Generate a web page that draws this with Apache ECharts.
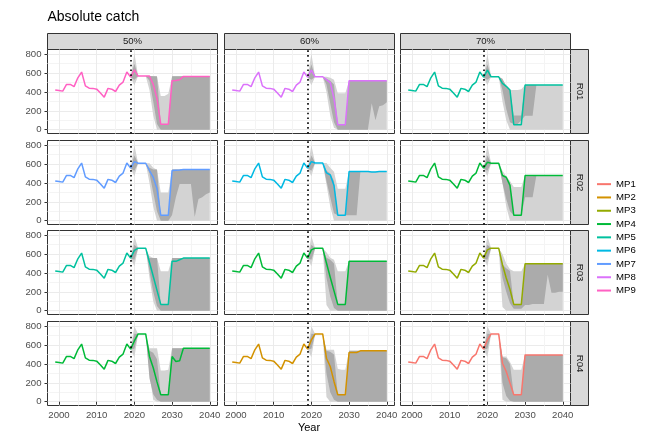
<!DOCTYPE html>
<html><head><meta charset="utf-8">
<script src="https://cdn.jsdelivr.net/npm/echarts@6/dist/echarts.min.js"></script>
<style>html,body{margin:0;padding:0;background:#fff}#c{width:651px;height:439px}</style>
</head><body><div id="c"></div>
<script>
const FONT = "'Liberation Sans', Arial, sans-serif";
const colLabels = ['50%', '60%', '70%'];
const rowLabels = ['R01', 'R02', 'R03', 'R04'];
const mpNames = ['MP1','MP2','MP3','MP4','MP5','MP6','MP7','MP8','MP9'];
const mpColors = ['#F8766D','#D39200','#93AA00','#00BA38','#00C19F','#00B9E3','#619CFF','#DB72FB','#FF61C3'];
const xMajor = [2000, 2010, 2020, 2030, 2040];
const xMinor = [2005, 2015, 2025, 2035];
const yMajor = [0, 200, 400, 600, 800];
const yMinor = [100, 300, 500, 700];
const histYears = [1999,2000,2001,2002,2003,2004,2005,2006,2007,2008,2009,2010,2011,2012,2013,2014,2015,2016,2017,2018,2019];
const projYears = [2019,2020,2021,2022,2023,2024,2025,2026,2027,2028,2029,2030,2031,2032,2033,2034,2035,2036,2037,2038,2039,2040];
const hist = [422,416,409,480,480,457,550,611,465,440,438,430,390,345,438,430,405,473,505,611,557];

// R01
const line_R01_50 = [635,569,569,569,569,480,330,58,58,58,520,522,530,565,565,565,565,565,565,565,565];
const oLo_R01_50 = [557,470,569,569,569,420,150,0,0,0,0,0,0,0,0,0,0,0,0,0,0,0];
const oHi_R01_50 = [557,810,569,569,569,569,569,560,357,357,380,567,567,567,567,567,567,567,567,567,567,567];
const iLo_R01_50 = [557,530,569,569,569,520,300,60,0,0,0,0,0,0,0,0,0,0,0,0,0,0];
const iHi_R01_50 = [557,700,569,569,569,569,567,567,60,60,60,567,567,567,567,567,567,567,567,567,567,567];

const line_R01_60 = [632,561,561,561,530,500,330,53,53,53,519,519,519,519,519,519,519,519,519,519,519];
const oLo_R01_60 = [557,470,561,561,561,400,150,20,0,0,0,0,0,0,0,0,0,0,0,0,0,0];
const oHi_R01_60 = [557,805,561,561,561,561,550,530,386,386,386,519,519,519,519,519,519,519,519,519,519,519];
const iLo_R01_60 = [557,530,561,561,561,480,280,80,0,0,0,0,0,0,0,0,0,280,100,250,260,290];
const iHi_R01_60 = [557,690,561,561,561,540,520,480,60,60,60,519,519,519,519,519,519,519,519,519,519,519];

const line_R01_70 = [632,561,561,561,491,460,420,53,53,53,474,474,474,474,474,474,474,474,474,474,474];
const oLo_R01_70 = [557,470,561,561,561,300,100,0,0,0,0,0,0,0,0,0,0,0,0,0,0,0];
const oHi_R01_70 = [557,805,561,561,561,530,470,420,420,420,430,474,474,474,474,474,474,474,474,474,474,474];
const iLo_R01_70 = [557,530,561,561,561,420,220,80,60,60,100,147,147,147,474,474,474,474,474,474,474,474];
const iHi_R01_70 = [557,690,561,561,561,540,460,420,150,150,150,474,474,474,474,474,474,474,474,474,474,474];

// R02
const line_R02_50 = [626,609,609,609,532,461,338,58,58,58,532,535,538,542,542,542,542,542,542,542,542];
const oLo_R02_50 = [557,470,609,609,609,400,150,0,0,0,0,0,0,0,0,0,0,0,0,0,0,0];
const oHi_R02_50 = [557,800,609,609,609,609,560,540,300,300,300,542,542,542,542,542,542,542,542,542,542,542];
const iLo_R02_50 = [557,530,609,609,609,500,300,100,0,0,0,60,250,390,390,390,390,40,230,250,280,300];
const iHi_R02_50 = [557,690,609,609,609,560,542,542,60,60,60,542,542,542,542,542,542,542,542,542,542,542];

const line_R02_60 = [626,612,612,612,507,486,374,58,58,58,521,521,521,521,521,521,516,516,521,521,521];
const oLo_R02_60 = [557,470,612,612,612,380,150,0,0,0,0,0,0,0,0,0,0,0,0,0,0,0];
const oHi_R02_60 = [557,800,612,612,612,612,560,520,339,339,339,521,521,521,521,521,521,521,521,521,521,521];
const iLo_R02_60 = [557,530,612,612,612,420,250,80,58,58,58,58,58,58,521,521,521,521,521,521,521,521];
const iHi_R02_60 = [557,690,612,612,612,530,500,420,58,58,58,521,521,521,521,521,521,521,521,521,521,521];

const line_R02_70 = [619,609,609,609,479,461,374,58,58,58,479,479,479,479,479,479,479,479,479,479,479];
const oLo_R02_70 = [557,470,609,609,609,400,150,0,0,0,0,0,0,0,0,0,0,0,0,0,0,0];
const oHi_R02_70 = [557,800,609,609,609,530,470,420,356,356,356,479,479,479,479,479,479,479,479,479,479,479];
const iLo_R02_70 = [557,530,609,609,609,400,230,100,58,58,58,250,250,250,479,479,479,479,479,479,479,479];
const iHi_R02_70 = [557,690,609,609,609,479,461,400,58,58,58,470,470,470,479,479,479,479,479,479,479,479];

// R03
const line_R03_50 = [640,663,663,663,514,365,216,67,67,67,523,523,540,558,558,558,558,558,558,558,558];
const oLo_R03_50 = [557,470,663,663,663,350,100,0,0,0,0,0,0,0,0,0,0,0,0,0,0,0];
const oHi_R03_50 = [557,790,663,663,663,580,558,558,418,418,418,558,558,558,558,558,558,558,558,558,558,558];
const iLo_R03_50 = [557,540,663,663,663,420,200,50,0,0,0,0,0,0,0,0,0,0,0,0,0,0];
const iHi_R03_50 = [557,700,663,663,663,558,558,558,67,67,67,558,558,558,558,558,558,558,558,558,558,558];

const line_R03_60 = [645,663,663,663,505,355,210,67,67,67,523,523,523,523,523,523,523,523,523,523,523];
const oLo_R03_60 = [557,470,663,663,663,60,0,0,0,0,0,0,0,0,0,0,0,0,0,0,0,0];
const oHi_R03_60 = [557,790,663,663,663,620,560,540,418,418,418,523,523,523,523,523,523,523,523,523,523,523];
const iLo_R03_60 = [557,540,663,663,663,350,150,30,0,0,0,0,0,0,0,0,0,0,0,0,0,0];
const iHi_R03_60 = [557,700,663,663,663,560,540,500,67,67,67,523,523,523,523,523,523,523,523,523,523,523];

const line_R03_70 = [645,663,663,663,488,347,225,67,67,67,498,498,498,498,498,498,498,498,498,498,498];
const oLo_R03_70 = [557,470,663,663,663,40,0,0,0,0,0,0,0,0,0,0,0,0,0,0,0,0];
const oHi_R03_70 = [557,790,663,663,663,600,500,440,418,418,418,498,498,498,498,498,498,498,498,498,498,498];
const iLo_R03_70 = [557,540,663,663,663,350,200,80,20,20,20,60,60,70,70,70,70,380,190,190,200,200];
const iHi_R03_70 = [557,700,663,663,663,488,450,420,67,67,67,498,498,498,498,498,498,498,498,498,498,498];

// R04
const line_R04_50 = [644,718,718,718,480,360,210,74,74,74,479,426,433,567,567,567,567,567,567,567,567];
const oLo_R04_50 = [557,470,718,718,718,300,20,0,0,0,0,0,0,0,0,0,0,0,0,0,0,0];
const oHi_R04_50 = [557,800,718,718,718,567,567,567,330,330,340,567,567,567,567,567,567,567,567,567,567,567];
const iLo_R04_50 = [557,560,718,718,718,250,80,20,0,0,0,0,0,0,0,0,0,0,0,0,0,0];
const iHi_R04_50 = [557,720,718,718,718,540,520,450,74,74,74,567,567,567,567,567,567,567,567,567,567,567];

const line_R04_60 = [655,718,718,718,461,373,215,74,74,74,521,521,521,539,539,539,539,539,539,539,539];
const oLo_R04_60 = [557,470,718,718,718,50,0,0,0,0,0,0,0,0,0,0,0,0,0,0,0,0];
const oHi_R04_60 = [557,800,718,718,718,550,550,550,350,340,340,539,539,539,539,539,539,539,539,539,539,539];
const iLo_R04_60 = [557,560,718,718,718,300,100,20,0,0,0,0,0,0,0,0,0,0,0,0,0,0];
const iHi_R04_60 = [557,720,718,718,718,540,530,500,74,74,74,539,539,539,539,539,539,539,539,539,539,539];

const line_R04_70 = [655,718,718,718,408,320,197,74,74,74,496,496,496,496,496,496,496,496,496,496,496];
const oLo_R04_70 = [557,470,718,718,718,20,0,0,0,0,0,0,0,0,0,0,0,0,0,0,0,0];
const oHi_R04_70 = [557,800,718,718,718,478,478,420,338,338,338,496,496,496,496,496,496,496,496,496,496,496];
const iLo_R04_70 = [557,560,718,718,718,200,60,10,0,0,0,0,0,0,0,0,0,0,0,0,0,0];
const iHi_R04_70 = [557,720,718,718,718,470,460,400,74,74,74,496,496,496,496,496,496,496,496,496,496,496];

const panels = [
  {row:0,col:0,mp:'MP9',line:line_R01_50,oLo:oLo_R01_50,oHi:oHi_R01_50,iLo:iLo_R01_50,iHi:iHi_R01_50},
  {row:0,col:1,mp:'MP8',line:line_R01_60,oLo:oLo_R01_60,oHi:oHi_R01_60,iLo:iLo_R01_60,iHi:iHi_R01_60},
  {row:0,col:2,mp:'MP5',line:line_R01_70,oLo:oLo_R01_70,oHi:oHi_R01_70,iLo:iLo_R01_70,iHi:iHi_R01_70},
  {row:1,col:0,mp:'MP7',line:line_R02_50,oLo:oLo_R02_50,oHi:oHi_R02_50,iLo:iLo_R02_50,iHi:iHi_R02_50},
  {row:1,col:1,mp:'MP6',line:line_R02_60,oLo:oLo_R02_60,oHi:oHi_R02_60,iLo:iLo_R02_60,iHi:iHi_R02_60},
  {row:1,col:2,mp:'MP4',line:line_R02_70,oLo:oLo_R02_70,oHi:oHi_R02_70,iLo:iLo_R02_70,iHi:iHi_R02_70},
  {row:2,col:0,mp:'MP5',line:line_R03_50,oLo:oLo_R03_50,oHi:oHi_R03_50,iLo:iLo_R03_50,iHi:iHi_R03_50},
  {row:2,col:1,mp:'MP4',line:line_R03_60,oLo:oLo_R03_60,oHi:oHi_R03_60,iLo:iLo_R03_60,iHi:iHi_R03_60},
  {row:2,col:2,mp:'MP3',line:line_R03_70,oLo:oLo_R03_70,oHi:oHi_R03_70,iLo:iLo_R03_70,iHi:iHi_R03_70},
  {row:3,col:0,mp:'MP4',line:line_R04_50,oLo:oLo_R04_50,oHi:oHi_R04_50,iLo:iLo_R04_50,iHi:iHi_R04_50},
  {row:3,col:1,mp:'MP2',line:line_R04_60,oLo:oLo_R04_60,oHi:oHi_R04_60,iLo:iLo_R04_60,iHi:iHi_R04_60},
  {row:3,col:2,mp:'MP1',line:line_R04_70,oLo:oLo_R04_70,oHi:oHi_R04_70,iLo:iLo_R04_70,iHi:iHi_R04_70}
];

// layout
const colLeft = [47.5, 224.5, 400.5];
const panelW = 170;
const rowTop = [49.5, 140.5, 230.5, 321.5];
const panelH = 84;
const X_MIN = 1996.95, X_MAX = 2042.05;
const Y_MIN = -40, Y_MAX = 850;
const LIGHT = '#D3D3D3', DARK = '#ABABAB';
const AXIS_TXT = '#4D4D4D';

const grids = [], xAxes = [], yAxes = [], series = [];
const pairs = (xs, ys) => ys.map((v, i) => [xs[i], v]);

function bandSeries(xi, yi, lo, hi, fill) {
  const rows = projYears.map((y, i) => [y, lo[i], hi[i]]);
  return {
    type: 'custom', xAxisIndex: xi, yAxisIndex: yi, silent: true, animation: false, clip: true,
    encode: {x: 0, y: [1, 2]}, data: rows,
    renderItem: function (params, api) {
      if (params.dataIndex !== 0) return null;
      const upper = rows.map(r => api.coord([r[0], r[2]]));
      const lower = rows.map(r => api.coord([r[0], r[1]])).reverse();
      return {type: 'polygon', shape: {points: upper.concat(lower)}, style: {fill: fill, stroke: null}};
    }
  };
}

panels.forEach((p, k) => {
  grids.push({left: colLeft[p.col], top: rowTop[p.row], width: panelW, height: panelH,
    show: true, backgroundColor: '#fff', borderColor: '#333333', borderWidth: 1, outerBoundsMode: 'none', containLabel: false});
  const bottomRow = p.row === 3, leftCol = p.col === 0;
  xAxes.push({gridIndex: k, type: 'value', min: X_MIN, max: X_MAX, position: 'bottom',
    axisLine: {show: false},
    axisTick: {show: bottomRow, length: 3, customValues: xMajor, lineStyle: {color: '#333333', width: 1}},
    axisLabel: {show: bottomRow, customValues: xMajor, margin: 5, fontSize: 9.6, color: AXIS_TXT, fontFamily: FONT,
      formatter: v => String(v)},
    splitLine: {show: true, lineStyle: {color: '#EBEBEB', width: 1}}});
  xAxes.push({gridIndex: k, type: 'value', min: X_MIN, max: X_MAX, position: 'top',
    axisLine: {show: false}, axisTick: {show: false, customValues: xMinor}, axisLabel: {show: false},
    splitLine: {show: true, lineStyle: {color: '#F4F4F4', width: 1}}});
  yAxes.push({gridIndex: k, type: 'value', min: Y_MIN, max: Y_MAX, position: 'left',
    axisLine: {show: false},
    axisTick: {show: leftCol, length: 3, customValues: yMajor, lineStyle: {color: '#333333', width: 1}},
    axisLabel: {show: leftCol, customValues: yMajor, margin: 6, fontSize: 9.6, color: AXIS_TXT, fontFamily: FONT,
      formatter: v => String(v)},
    splitLine: {show: true, lineStyle: {color: '#EBEBEB', width: 1}}});
  yAxes.push({gridIndex: k, type: 'value', min: Y_MIN, max: Y_MAX, position: 'right',
    axisLine: {show: false}, axisTick: {show: false, customValues: yMinor}, axisLabel: {show: false},
    splitLine: {show: true, lineStyle: {color: '#F4F4F4', width: 1}}});
  const xi = 2 * k, yi = 2 * k;
  series.push(bandSeries(xi, yi, p.oLo, p.oHi, LIGHT));
  series.push(bandSeries(xi, yi, p.iLo, p.iHi, DARK));
  const color = mpColors[mpNames.indexOf(p.mp)];
  series.push({type: 'line', xAxisIndex: xi, yAxisIndex: yi, symbol: 'none', silent: true, animation: false,
    name: p.mp, color: color,
    data: pairs(histYears, hist).concat(pairs(projYears.slice(1), p.line)),
    lineStyle: {color: color, width: 1.5},
    markLine: {silent: true, symbol: ['none', 'none'], label: {show: false}, animation: false,
      lineStyle: {color: '#000', type: [1.6, 3.2], width: 1.6}, data: [{xAxis: 2019}]}});
});

const graphic = [];
graphic.push({type: 'text', x: 47.5, y: 17, style: {text: 'Absolute catch', font: '14px ' + FONT, fill: '#000', align: 'left', verticalAlign: 'middle'}});
colLabels.forEach((t, c) => {
  graphic.push({type: 'rect', shape: {x: colLeft[c], y: 33.5, width: panelW, height: 16}, style: {fill: '#D9D9D9', stroke: '#333333', lineWidth: 1}});
  graphic.push({type: 'text', x: colLeft[c] + panelW / 2, y: 41.5, style: {text: t, font: '9.6px ' + FONT, fill: '#1A1A1A', align: 'center', verticalAlign: 'middle'}});
});
rowLabels.forEach((t, r) => {
  graphic.push({type: 'rect', shape: {x: 570.5, y: rowTop[r], width: 18, height: panelH}, style: {fill: '#D9D9D9', stroke: '#333333', lineWidth: 1}});
  graphic.push({type: 'text', x: 579.5, y: rowTop[r] + panelH / 2, rotation: -Math.PI / 2, style: {text: t, font: '9.6px ' + FONT, fill: '#1A1A1A', align: 'center', verticalAlign: 'middle'}});
});
graphic.push({type: 'text', x: 309, y: 427.5, style: {text: 'Year', font: '11px ' + FONT, fill: '#000', align: 'center', verticalAlign: 'middle'}});

const chart = echarts.init(document.getElementById('c'), null, {renderer: 'canvas'});
chart.setOption({
  animation: false,
  backgroundColor: '#fff',
  textStyle: {fontFamily: FONT},
  grid: grids, xAxis: xAxes, yAxis: yAxes, series: series,
  legend: {data: mpNames, orient: 'vertical', left: 592, top: 172.5, icon: 'rect', itemWidth: 14, itemHeight: 2,
    itemGap: 0, selectedMode: false,
    textStyle: {fontSize: 9.6, color: '#000', fontFamily: FONT, lineHeight: 13.3}},
  graphic: graphic
});
</script></body></html>
